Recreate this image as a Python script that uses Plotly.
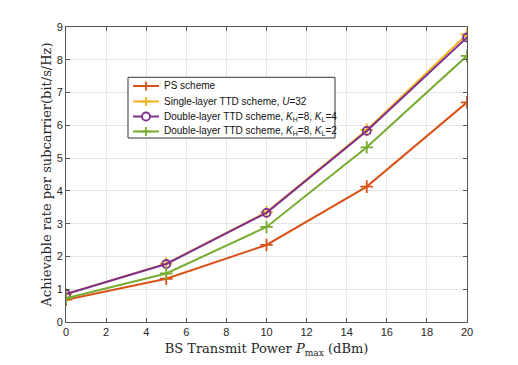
import plotly.graph_objects as go

x_power = [0, 5, 10, 15, 20]
ps_rate = [0.68, 1.32, 2.35, 4.13, 6.70]
single_rate = [0.85, 1.78, 3.35, 5.86, 8.78]
double4_rate = [0.85, 1.77, 3.33, 5.83, 8.68]
double2_rate = [0.72, 1.48, 2.90, 5.33, 8.12]

names = [
    "PS scheme",
    "Single-layer TTD scheme, <i>U</i>=32",
    "Double-layer TTD scheme, <i>K</i><sub>H</sub>=8, <i>K</i><sub>L</sub>=4",
    "Double-layer TTD scheme, <i>K</i><sub>H</sub>=8, <i>K</i><sub>L</sub>=2",
]
colors = ["#D95319", "#EDB120", "#7E2F8E", "#77AC30"]
symbols = ["cross-thin", "cross-thin", "circle-open", "cross-thin"]
series = [ps_rate, single_rate, double4_rate, double2_rate]

fig = go.Figure()
for name, c, s, y in zip(names, colors, symbols, series):
    fig.add_trace(go.Scatter(
        x=x_power, y=y, name=name, mode="lines+markers", showlegend=False,
        line=dict(color=c, width=2),
        marker=dict(symbol=s, size=9 if s != "circle-open" else 8,
                    color=c, line=dict(color=c, width=1.8)),
    ))

# custom legend (box, sample lines, markers, labels) in paper coordinates
leg_x0, leg_x1, leg_y0, leg_y1 = 0.1546, 0.6708, 0.6237, 0.8295
row_y = [0.800, 0.7475, 0.6966, 0.6458]
ln_x0, ln_x1, ln_xm, txt_x = 0.1671, 0.2319, 0.1995, 0.2394
shapes = [dict(type="rect", xref="paper", yref="paper", x0=leg_x0, x1=leg_x1,
               y0=leg_y0, y1=leg_y1, line=dict(color="#333333", width=1),
               fillcolor="white", layer="above")]
annotations = []
for name, c, s, ry in zip(names, colors, symbols, row_y):
    shapes.append(dict(type="line", xref="paper", yref="paper", x0=ln_x0, x1=ln_x1,
                       y0=ry, y1=ry, line=dict(color=c, width=2), layer="above"))
    if s == "circle-open":
        shapes.append(dict(type="circle", xref="paper", yref="paper",
                           xsizemode="pixel", ysizemode="pixel", xanchor=ln_xm, yanchor=ry,
                           x0=-4, x1=4, y0=-4, y1=4, line=dict(color=c, width=1.8),
                           fillcolor="white", layer="above"))
    else:
        shapes.append(dict(type="line", xref="paper", yref="paper",
                           xsizemode="pixel", ysizemode="pixel", xanchor=ln_xm, yanchor=ry,
                           x0=-4.5, x1=4.5, y0=0, y1=0, line=dict(color=c, width=1.8), layer="above"))
        shapes.append(dict(type="line", xref="paper", yref="paper",
                           xsizemode="pixel", ysizemode="pixel", xanchor=ln_xm, yanchor=ry,
                           x0=0, x1=0, y0=-4.5, y1=4.5, line=dict(color=c, width=1.8), layer="above"))
    annotations.append(dict(xref="paper", yref="paper", x=txt_x, y=ry, text=name,
                            showarrow=False, xanchor="left", yanchor="middle",
                            font=dict(family="Liberation Sans, Arial", size=10, color="#111111")))

axis_common = dict(
    showline=True, linecolor="#555555", linewidth=1, mirror="ticks",
    ticks="inside", ticklen=4, tickcolor="#555555",
    showgrid=True, gridcolor="#e6e6e6", gridwidth=1, zeroline=False,
    automargin=False,
    tickfont=dict(family="Liberation Sans, Arial", size=11, color="#262626"),
)

fig.update_layout(
    width=510, height=357,
    margin=dict(l=58, r=51, t=19, b=43, autoexpand=False),
    paper_bgcolor="white", plot_bgcolor="white",
    xaxis=dict(range=[0, 20], dtick=2,
               title=dict(text="BS Transmit Power <i>P</i><sub>max</sub> (dBm)",
                          font=dict(family="DejaVu Serif", size=13, color="#262626"),
                          standoff=6),
               **axis_common),
    yaxis=dict(range=[0, 9], dtick=1,
               title=dict(text="Achievable rate per subcarrier(bit/s/Hz)",
                          font=dict(family="DejaVu Serif", size=13, color="#262626"),
                          standoff=2),
               **axis_common),
    shapes=shapes,
    annotations=annotations,
    showlegend=False,
)

fig.write_html("out.html")
